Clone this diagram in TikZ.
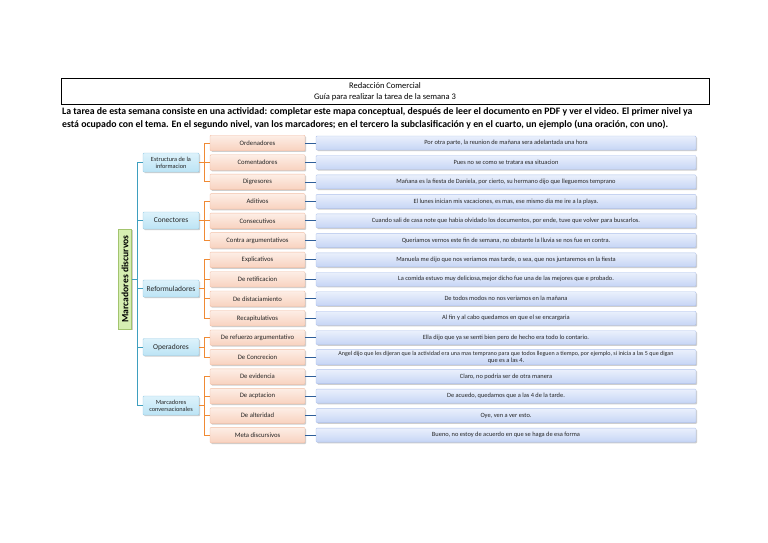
\documentclass[tikz,border=0pt]{standalone}
\usepackage{fontspec}
\setmainfont{Carlito}
\usetikzlibrary{shadows,calc}
\definecolor{lthreetop}{HTML}{FDEEE6}
\definecolor{lthreebot}{HTML}{F8D2BF}
\definecolor{lthreeborder}{HTML}{F2BFA6}
\definecolor{lfourtop}{HTML}{EAF0FC}
\definecolor{lfourbot}{HTML}{C6D5F5}
\definecolor{lfourborder}{HTML}{AFC2EC}
\definecolor{ltwotop}{HTML}{DDF2FB}
\definecolor{ltwobot}{HTML}{BCE4F5}
\definecolor{ltwoborder}{HTML}{9CCFE7}
\definecolor{rootfill}{HTML}{D6EEB2}
\definecolor{rootborder}{HTML}{A3C46E}
\definecolor{tealline}{HTML}{3E9FBF}
\definecolor{orangeline}{HTML}{F08A34}
\definecolor{blueline}{HTML}{2F5F9A}
\definecolor{txtgray}{HTML}{262626}
\tikzset{
  shad/.style={drop shadow={shadow xshift=1.2pt,shadow yshift=-1.2pt,opacity=.35,fill=black!55}},
  rootbox/.style={draw=rootborder,fill=rootfill,line width=0.6pt,rotate=90,minimum width=100,minimum height=13,inner sep=1pt,font=\fontsize{9.6}{10}\selectfont\bfseries,shad},
  ltwo/.style={draw=ltwoborder,top color=ltwotop,bottom color=ltwobot,line width=0.4pt,rounded corners=1pt,minimum width=56,minimum height=17,inner sep=1pt,align=center,text=txtgray,shad},
  lthree/.style={draw=lthreeborder,top color=lthreetop,bottom color=lthreebot,line width=0.4pt,rounded corners=1pt,minimum width=95,minimum height=15.5,inner sep=1pt,align=center,text=txtgray,font=\fontsize{6.7}{7.5}\selectfont,shad},
  lfour/.style={draw=lfourborder,top color=lfourtop,bottom color=lfourbot,line width=0.4pt,rounded corners=1pt,minimum width=380,minimum height=14,inner sep=1.5pt,align=center,text=txtgray,font=\fontsize{6.4}{7}\selectfont,shad},
  tconn/.style={draw=tealline,line width=1pt},
  oconn/.style={draw=orangeline,line width=1pt},
  bconn/.style={draw=blueline,line width=0.8pt},
}
\begin{document}
\begin{tikzpicture}[x=1pt,y=-1pt]
\useasboundingbox[fill=white] (0,0) rectangle (768,543);
% header
\node[draw,line width=0.8pt,minimum width=648,minimum height=26,inner sep=0] (head) at (385,91) {};
\node[font=\fontsize{8.5}{9}\selectfont,inner sep=0] (h1) at (385,85.5) {Redacción Comercial};
\node[font=\fontsize{8.5}{9}\selectfont,inner sep=0] (h2) at (385,97) {Guía para realizar la tarea de la semana 3};
\node[anchor=west,font=\fontsize{9.8}{10}\selectfont\bfseries,inner sep=0] (p1) at (62,111.5) {La tarea de esta semana consiste en una actividad: completar este mapa conceptual, después de leer el documento en PDF y ver el video. El primer nivel ya};
\node[anchor=west,font=\fontsize{9.8}{10}\selectfont\bfseries,inner sep=0] (p2) at (62,124.5) {está ocupado con el tema. En el segundo nivel, van los marcadores; en el tercero la subclasificación y en el cuarto, un ejemplo (una oración, con uno).};
% root
\node[rootbox] (root) at (125,279) {Marcadores discurvos};
% level two
\node[ltwo,minimum height=19,font=\fontsize{6.3}{7}\selectfont] (a) at (171,162.5) {Estructura de la\\informacion};
\node[ltwo,font=\fontsize{7.5}{8}\selectfont] (b) at (171,220.5) {Conectores};
\node[ltwo,font=\fontsize{7.5}{8}\selectfont] (c) at (171,288.5) {Reformuladores};
\node[ltwo,font=\fontsize{7.5}{8}\selectfont] (d) at (171,347) {Operadores};
\node[ltwo,minimum height=19,font=\fontsize{6.3}{7}\selectfont] (e) at (171,405.5) {Marcadores\\conversacionales};
% level three and four
\foreach \i/\ta/\tb in {
1/Ordenadores/{Por otra parte, la reunion de mañana sera adelantada una hora},
2/Comentadores/{Pues no se como se tratara esa situacion},
3/Digresores/{Mañana es la fiesta de Daniela, por cierto, su hermano dijo que lleguemos temprano},
4/Aditivos/{El lunes inician mis vacaciones, es mas, ese mismo dia me ire a la playa.},
5/Consecutivos/{Cuando sali de casa note que habia olvidado los documentos, por ende, tuve que volver para buscarlos.},
6/Contra argumentativos/{Queriamos vernos este fin de semana, no obstante la lluvia se nos fue en contra.},
7/Explicativos/{Manuela me dijo que nos veriamos mas tarde, o sea, que nos juntaremos en la fiesta},
8/De retificacion/{La comida estuvo muy deliciosa,mejor dicho fue una de las mejores que e probado.},
9/De distaciamiento/{De todos modos no nos veriamos en la mañana},
10/Recapitulativos/{Al fin y al cabo quedamos en que el se encargaria},
11/De refuerzo argumentativo/{Ella dijo que ya se senti bien pero de hecho era todo lo contario.},
12/De Concrecion/{\fontsize{6.05}{6.8}\selectfont Angel dijo que les dijeran que la actividad era una mas temprano para que todos lleguen a tiempo, por ejemplo, si inicia a las 5 que digan\\que es a las 4.},
13/De evidencia/{Claro, no podria ser de otra manera},
14/De acptacion/{De acuedo, quedamos que a las 4 de la tarde.},
15/De alteridad/{Oye, ven a ver esto.},
16/Meta discursivos/{Bueno, no estoy de acuerdo en que se haga de esa forma}}
{
  \pgfmathsetmacro\yy{143+(\i-1)*19.47}
  \node[lthree] (r\i) at (257.5,\yy) {\ta};
  \node[lfour] (s\i) at (506,\yy) {\tb};
  \draw[bconn] (r\i.east) -- (s\i.west);
}
% connectors root -> level two
\coordinate (tr) at (137,0);
\draw[tconn] (root.south) -- (root.south -| tr);
\draw[tconn] (a.west -| tr) -- (e.west -| tr);
\foreach \n in {a,b,c,d,e} \draw[tconn] (\n.west -| tr) -- (\n.west);
% connectors level two -> three
\coordinate (ob) at (204,0);
\foreach \n/\f/\l in {a/1/3,b/4/6,c/7/10,d/11/12,e/13/16}{
  \draw[oconn] (\n.east) -- (\n.east -| ob);
  \draw[oconn] (r\f.west -| ob) -- (r\l.west -| ob);
  \foreach \k in {\f,...,\l} \draw[oconn] (r\k.west -| ob) -- (r\k.west);
}
\end{tikzpicture}
\end{document}
